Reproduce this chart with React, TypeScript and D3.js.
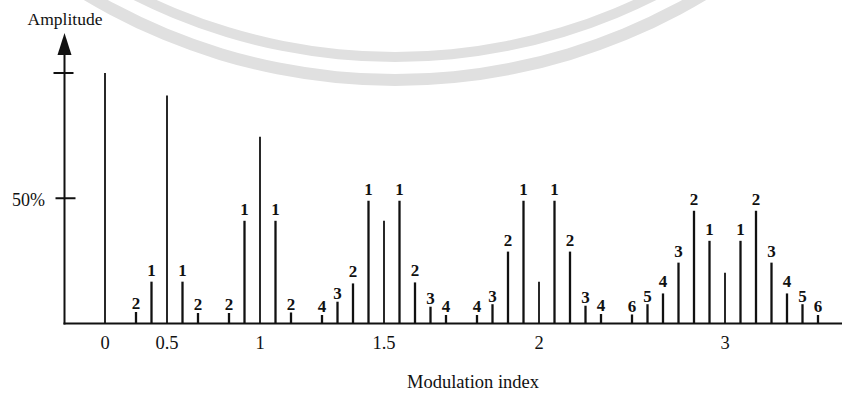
import React from 'react';
import * as d3 from 'd3';

// modulation index of each spectrum group and where its carrier sits (in sideband slots)
const modIndex = [0, 0.5, 1, 1.5, 2, 3];
const tickLabels = ['0', '0.5', '1', '1.5', '2', '3'];
const centerSlot = [0, 4, 10, 18, 28, 40];
// amplitudes in % of unmodulated carrier
const carrierPct = [100, 91, 74.6, 41, 16.7, 20.3];
const lowerPct = [
  [],
  [16.7, 4.6],
  [41, 4.2],
  [49, 16, 8.7, 3.4],
  [49, 28.7, 7.7, 3.4],
  [33, 45, 24.3, 12, 7.7, 3.6],
];
const upperPct = [
  [],
  [16.7, 4.2],
  [41, 4.4],
  [49, 16.4, 6.7, 3.4],
  [49, 28.7, 7.1, 3.8],
  [33, 45, 24.3, 12, 7.7, 3.4],
];

interface Line {
  slot: number;
  pct: number;
  order: number; // 0 = carrier
}

const lines: Line[] = [];
modIndex.forEach((_, g) => {
  lines.push({ slot: centerSlot[g], pct: carrierPct[g], order: 0 });
  lowerPct[g].forEach((p, k) => lines.push({ slot: centerSlot[g] - (k + 1), pct: p, order: k + 1 }));
  upperPct[g].forEach((p, k) => lines.push({ slot: centerSlot[g] + (k + 1), pct: p, order: k + 1 }));
});

const W = 842;
const H = 394;
const axisX = 64.5;
const baseY = 323.5;

const App: React.FC = () => {
  const x = d3.scaleLinear().domain([0, 46]).range([105, 818]);
  const y = d3.scaleLinear().domain([0, 100]).range([baseY, 73]);
  const font = '"Liberation Serif", "Times New Roman", serif';

  // faint watermark bands from the scanned page
  const band = (r: number, w: number) =>
    d3.arc()({
      innerRadius: r - w / 2,
      outerRadius: r + w / 2,
      startAngle: Math.PI * 0.75,
      endAngle: Math.PI * 1.25,
    } as any) ?? '';

  return (
    <svg width={W} height={H} style={{ position: 'absolute', left: 0, top: 0, background: '#fff' }}>
      <g transform="translate(395,-520)" fill="#e0e0e0">
        <path d={band(600, 12)} />
        <path d={band(577, 10)} />
      </g>

      {/* y axis with arrow */}
      <line x1={axisX} x2={axisX} y1={baseY + 1} y2={52} stroke="#111" strokeWidth={2} />
      <path d={`M${axisX},33 L${axisX - 7},55 L${axisX + 7},55 Z`} fill="#111" />
      <line x1={axisX - 11} x2={axisX + 9} y1={y(100)} y2={y(100)} stroke="#111" strokeWidth={2} />
      <line x1={axisX - 9} x2={axisX + 11} y1={y(50)} y2={y(50)} stroke="#111" strokeWidth={2} />
      <text x={12} y={y(50) + 8} fontFamily={font} fontSize={18} fill="#111">50%</text>
      <text x={65} y={25} textAnchor="middle" fontFamily={font} fontSize={17.5} fill="#111">Amplitude</text>

      {/* x axis */}
      <line x1={axisX - 1} x2={W} y1={baseY} y2={baseY} stroke="#111" strokeWidth={2} />
      {modIndex.map((m, g) => (
        <text
          key={m}
          x={x(centerSlot[g])}
          y={349}
          textAnchor="middle"
          fontFamily={font}
          fontSize={18.5}
          fill="#111"
        >
          {tickLabels[g]}
        </text>
      ))}
      <text x={473} y={388} textAnchor="middle" fontFamily={font} fontSize={18.5} fill="#111">
        Modulation index
      </text>

      {/* spectral lines */}
      {lines.map((l, i) => (
        <g key={i}>
          <line
            x1={x(l.slot)}
            x2={x(l.slot)}
            y1={baseY}
            y2={y(l.pct)}
            stroke="#111"
            strokeWidth={l.order === 0 ? 1.8 : 2.3}
          />
          {l.order > 0 && (
            <text
              x={x(l.slot)}
              y={y(l.pct) - (l.pct < 10 ? 2.5 : 6)}
              textAnchor="middle"
              fontFamily={font}
              fontSize={17}
              fontWeight="bold"
              fill="#111"
            >
              {l.order}
            </text>
          )}
        </g>
      ))}
    </svg>
  );
};

export default App;
